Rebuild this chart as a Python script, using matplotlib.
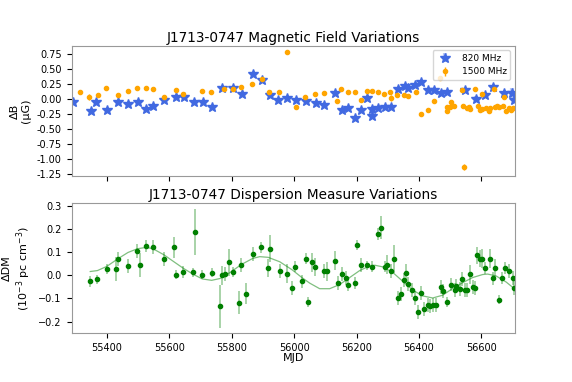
import matplotlib
matplotlib.use("Agg")
import matplotlib.pyplot as plt
import numpy as np

# magnetic field, 820 MHz
mjd_820 = [55292, 55348, 55367, 55402, 55437, 55468, 55499, 55527, 55548, 55583,
           55622, 55646, 55678, 55708, 55736, 55769, 55804, 55832, 55867, 55896,
           55922, 55950, 55978, 56005, 56037, 56069, 56095, 56130, 56152, 56174,
           56194, 56213, 56234, 56248, 56250, 56269, 56290, 56310, 56333, 56354,
           56366, 56387, 56406, 56429, 56449, 56469, 56490, 56547, 56583, 56610,
           56636, 56671, 56698, 56704]
b_820 = [-0.05, -0.20, -0.05, -0.18, -0.05, -0.08, -0.05, -0.17, -0.11, -0.01,
         0.04, 0.03, -0.05, -0.05, -0.13, 0.18, 0.19, 0.08, 0.41, 0.32,
         0.07, -0.02, 0.01, -0.01, -0.04, -0.06, -0.10, 0.10, -0.19, -0.16,
         -0.32, -0.19, 0.01, -0.17, -0.28, -0.16, -0.13, -0.13, 0.16, 0.22,
         0.19, 0.23, 0.29, 0.15, 0.15, 0.10, 0.12, 0.15, 0.00, 0.07,
         0.20, 0.10, 0.10, -0.02]
err_820 = [0.03] * 48 + [0.05, 0.03, 0.03, 0.03, 0.09, 0.03]

# magnetic field, 1500 MHz
mjd_1500 = [55314, 55343, 55371, 55396, 55436, 55469, 55498, 55527, 55549, 55583,
            55621, 55644, 55705, 55735, 55775, 55803, 55829, 55866, 55896, 55921,
            55951, 55978, 56005, 56035, 56067, 56095, 56137, 56149, 56173, 56195,
            56214, 56234, 56250, 56268, 56288, 56308, 56311, 56330, 56351, 56365,
            56389, 56408, 56429, 56449, 56468, 56489, 56490, 56498, 56504, 56511,
            56537, 56540, 56545, 56553, 56560, 56565, 56580, 56588, 56595, 56601,
            56602, 56615, 56623, 56629, 56639, 56643, 56651, 56657, 56669, 56671,
            56679, 56687, 56694, 56702]
b_1500 = [0.11, 0.03, 0.07, 0.18, 0.07, 0.13, 0.19, 0.19, 0.16, 0.04,
          0.15, 0.08, 0.13, 0.11, 0.17, 0.16, 0.20, 0.25, 0.33, 0.12,
          0.11, 0.78, -0.13, 0.04, 0.08, 0.10, -0.03, 0.17, 0.12, 0.12,
          -0.01, 0.13, 0.13, 0.11, 0.08, 0.11, 0.01, 0.07, 0.06, 0.05,
          0.12, -0.25, -0.18, -0.04, 0.35, -0.14, -0.20, -0.13, -0.05, -0.11,
          0.15, -0.11, -1.14, -0.15, -0.13, -0.17, 0.16, -0.11, -0.19, 0.08,
          -0.17, -0.16, -0.21, -0.16, 0.16, -0.13, -0.11, -0.13, -0.11, 0.04,
          -0.21, -0.16, -0.19, -0.16]
err_1500 = [0.02] * 74
err_1500[1] = 0.05
err_1500[36] = 0.05
err_1500[52] = 0.05

# dispersion measure
mjd_dm = [55347, 55370, 55400, 55431, 55437, 55468, 55498, 55507, 55527, 55548,
          55583, 55615, 55622, 55645, 55677, 55682, 55706, 55736, 55763, 55770,
          55778, 55793, 55803, 55822, 55831, 55847, 55867, 55895, 55917, 55922,
          55954, 55978, 55993, 56004, 56025, 56038, 56045, 56058, 56068, 56095,
          56107, 56131, 56140, 56152, 56167, 56174, 56195, 56201, 56214, 56235,
          56249, 56269, 56277, 56290, 56299, 56310, 56319, 56332, 56341, 56351,
          56358, 56365, 56379, 56387, 56397, 56406, 56415, 56428, 56435, 56446,
          56455, 56470, 56476, 56490, 56502, 56514, 56519, 56530, 56538, 56549,
          56554, 56563, 56574, 56581, 56587, 56596, 56603, 56613, 56626, 56638,
          56643, 56655, 56667, 56675, 56690, 56702, 56703]
dm = [-0.027, -0.017, 0.027, 0.027, 0.070, 0.040, 0.105, 0.044, 0.125, 0.120,
      0.070, 0.120, 0.003, 0.013, 0.013, 0.185, 0.003, 0.011, -0.134, 0.000,
      0.006, 0.055, 0.014, -0.118, 0.043, -0.080, 0.093, 0.120, 0.031, 0.115,
      0.017, 0.007, -0.057, 0.037, -0.027, 0.072, -0.115, 0.055, 0.036, 0.020,
      0.017, 0.063, -0.032, 0.007, -0.010, -0.040, -0.034, 0.130, 0.043, 0.043,
      0.037, 0.177, 0.204, 0.037, 0.045, 0.020, 0.070, -0.099, -0.082, -0.022,
      0.009, -0.036, -0.065, -0.100, -0.158, -0.076, -0.147, -0.129, -0.134, -0.129,
      -0.129, -0.052, -0.068, -0.115, -0.040, -0.062, -0.046, -0.060, -0.016, -0.062,
      -0.065, 0.004, -0.052, -0.057, 0.085, 0.072, 0.072, 0.030, 0.072, -0.014,
      0.030, -0.105, -0.013, 0.031, 0.019, -0.010, -0.057]
dm_err = [0.023, 0.020, 0.020, 0.050, 0.030, 0.030, 0.030, 0.050, 0.025, 0.030,
          0.030, 0.045, 0.020, 0.025, 0.020, 0.098, 0.020, 0.020, 0.093, 0.040,
          0.030, 0.060, 0.020, 0.050, 0.030, 0.045, 0.030, 0.025, 0.040, 0.060,
          0.030, 0.040, 0.030, 0.025, 0.030, 0.025, 0.020, 0.040, 0.040, 0.030,
          0.040, 0.040, 0.030, 0.030, 0.030, 0.030, 0.025, 0.020, 0.030, 0.020,
          0.025, 0.025, 0.050, 0.025, 0.040, 0.030, 0.060, 0.030, 0.030, 0.030,
          0.040, 0.030, 0.030, 0.030, 0.030, 0.030, 0.030, 0.030, 0.030, 0.030,
          0.030, 0.030, 0.030, 0.020, 0.030, 0.030, 0.030, 0.030, 0.030, 0.030,
          0.030, 0.040, 0.030, 0.030, 0.035, 0.035, 0.040, 0.025, 0.040, 0.030,
          0.040, 0.020, 0.025, 0.025, 0.030, 0.030, 0.030]

# model curve
model_mjd = [55347, 55370, 55400, 55437, 55468, 55498, 55527, 55548, 55583, 55615,
             55645, 55677, 55706, 55736, 55763, 55793, 55831, 55867, 55890, 55917,
             55954, 55993, 56025, 56050, 56082, 56114, 56146, 56178, 56210, 56242,
             56259, 56284, 56316, 56348, 56380, 56412, 56444, 56476, 56508, 56540,
             56572, 56604, 56620, 56647, 56679, 56703]
model_dm = [0.016, 0.020, 0.038, 0.072, 0.098, 0.114, 0.120, 0.114, 0.088, 0.058,
            0.030, 0.004, -0.016, -0.022, -0.014, 0.010, 0.046, 0.072, 0.080, 0.077,
            0.058, 0.024, -0.010, -0.034, -0.058, -0.058, -0.040, -0.010, 0.020, 0.040,
            0.043, 0.036, 0.012, -0.026, -0.064, -0.089, -0.098, -0.086, -0.057, -0.032,
            -0.010, 0.003, 0.005, -0.003, -0.029, -0.055]

b_ticks = [-1.25, -1.00, -0.75, -0.50, -0.25, 0.00, 0.25, 0.50, 0.75]
mjd_ticks = [55400, 55600, 55800, 56000, 56200, 56400, 56600]

fig, (ax1, ax2) = plt.subplots(2, 1, sharex=True, figsize=(5.72, 3.82), dpi=100)
fig.subplots_adjust(left=0.125, right=0.9, top=0.88, bottom=0.1275, hspace=0.21)

ax1.errorbar(mjd_820, b_820, yerr=err_820, fmt='*', color='royalblue',
             ecolor=(0.25, 0.41, 0.88, 0.35), elinewidth=3, markersize=7, label='820 MHz')
ax1.errorbar(mjd_1500, b_1500, yerr=err_1500, fmt='o', color='orange',
             ecolor='orange', elinewidth=1, markersize=3, label='1500 MHz')
ax1.set_title('J1713-0747 Magnetic Field Variations', fontsize=9.8, pad=3)
ax1.set_ylabel('ΔB\n(μG)', fontsize=8)
ax1.set_ylim(-1.29, 0.89)
ax1.set_yticks(b_ticks)
ax1.set_yticklabels(['%.2f' % t for t in b_ticks])
ax1.legend(loc='upper right', fontsize=6.5)
ax1.tick_params(labelsize=7, labelbottom=False)

ax2.errorbar(mjd_dm, dm, yerr=dm_err, fmt='o', color='green',
             ecolor=(0.0, 0.5, 0.0, 0.4), elinewidth=1.2, markersize=3)
ax2.plot(model_mjd, model_dm, color='green', alpha=0.5, lw=0.9)
ax2.set_title('J1713-0747 Dispersion Measure Variations', fontsize=9.8, pad=3)
ax2.set_ylabel('ΔDM\n(10$^{-3}$ pc cm$^{-3}$)', fontsize=8)
ax2.set_xlabel('MJD', fontsize=8, labelpad=0)
ax2.set_ylim(-0.25, 0.31)
ax2.set_xlim(55287, 56707)
ax2.set_xticks(mjd_ticks)
ax2.tick_params(labelsize=7)

for ax in (ax1, ax2):
    for s in ax.spines.values():
        s.set_color('0.6')

plt.savefig('out.png', dpi=100)
